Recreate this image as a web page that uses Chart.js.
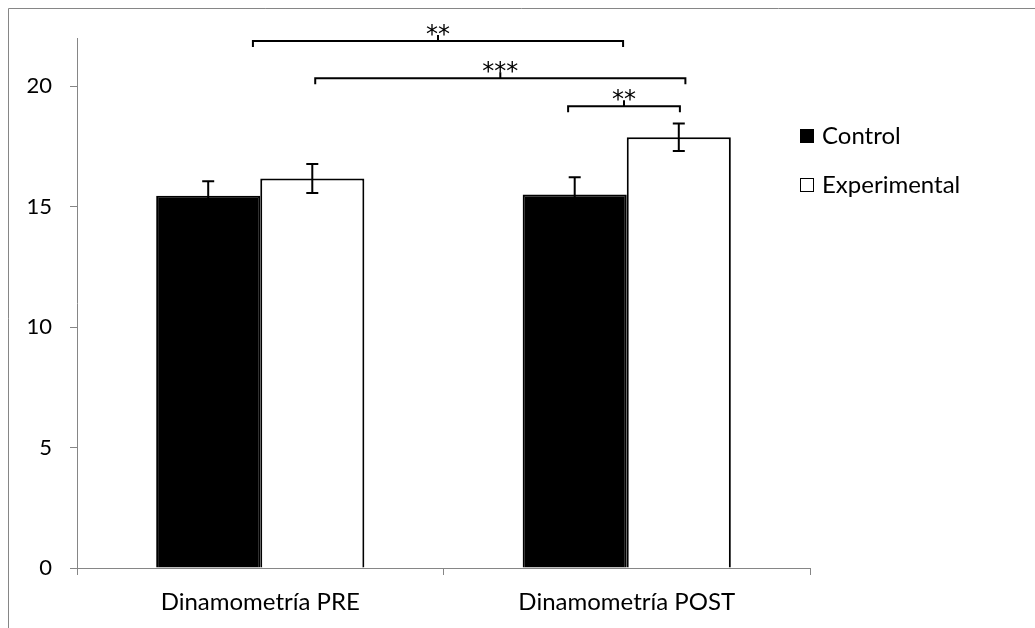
<!DOCTYPE html>
<html>
<head>
<meta charset="utf-8">
<title>Dinamometría</title>
<script src="https://cdn.jsdelivr.net/npm/chart.js@4"></script>
<style>
  html, body { margin: 0; padding: 0; background: #fff; }
  #wrap { width: 1035px; height: 628px; }
</style>
</head>
<body>
<div id="wrap"><canvas id="dinamometria" width="1035" height="628"></canvas></div>
<script>
// grip strength (dynamometry) before / after, mean and error per group
const categories = ['Dinamometría PRE', 'Dinamometría POST'];
const controlMeans = [15.45, 15.5];
const controlErrors = [0.6, 0.72];
const experimentalMeans = [16.17, 17.88];
const experimentalErrors = [0.6, 0.57];
const yTicks = [0, 5, 10, 15, 20];

// significance brackets, spans given in category units, height in axis units
const comparisons = [
  { from: -0.02, to: 0.99, y: 21.88, label: '**' },
  { from: 0.15, to: 1.16, y: 20.33, label: '***' },
  { from: 0.84, to: 1.145, y: 19.17, label: '**' }
];

const errors = [controlErrors, experimentalErrors];
const axisGray = '#868686';
const font = 'Lato, "Noto Sans", sans-serif';

const frame = {
  id: 'frame',
  beforeDraw(chart) {
    const c = chart.ctx;
    c.save();
    c.strokeStyle = axisGray;
    c.lineWidth = 1;
    c.beginPath();
    c.moveTo(8.5, chart.height);
    c.lineTo(8.5, 8.5);
    c.lineTo(chart.width, 8.5);
    c.stroke();
    c.restore();
  }
};

const errorBars = {
  id: 'errorBars',
  afterDatasetsDraw(chart) {
    const c = chart.ctx;
    const y = chart.scales.y;
    c.save();
    c.strokeStyle = '#000';
    c.lineWidth = 2;
    chart.data.datasets.forEach((ds, di) => {
      chart.getDatasetMeta(di).data.forEach((bar, i) => {
        const v = ds.data[i], e = errors[di][i];
        const top = y.getPixelForValue(v + e);
        const bot = y.getPixelForValue(v - e);
        c.beginPath();
        c.moveTo(bar.x, top); c.lineTo(bar.x, bot);
        c.moveTo(bar.x - 6, top); c.lineTo(bar.x + 6, top);
        c.moveTo(bar.x - 6, bot); c.lineTo(bar.x + 6, bot);
        c.stroke();
      });
    });
    c.restore();
  }
};

const brackets = {
  id: 'brackets',
  afterDraw(chart) {
    const c = chart.ctx;
    const x = chart.scales.x, y = chart.scales.y;
    c.save();
    c.strokeStyle = '#000';
    c.fillStyle = '#000';
    c.lineWidth = 2;
    c.font = '24px "DejaVu Sans", sans-serif';
    c.textAlign = 'center';
    c.textBaseline = 'alphabetic';
    comparisons.forEach(cmp => {
      const x0 = x.getPixelForValue(cmp.from);
      const x1 = x.getPixelForValue(cmp.to);
      const yy = y.getPixelForValue(cmp.y);
      const mid = (x0 + x1) / 2;
      c.beginPath();
      c.moveTo(x0, yy + 6);
      c.lineTo(x0, yy);
      c.lineTo(x1, yy);
      c.lineTo(x1, yy + 6);
      c.moveTo(mid, yy);
      c.lineTo(mid, yy - 6);
      c.stroke();
      c.fillText(cmp.label, mid, yy + 1);
    });
    c.restore();
  }
};

const sideLegend = {
  id: 'sideLegend',
  afterDraw(chart) {
    const c = chart.ctx;
    const left = chart.chartArea.right - 10;
    c.save();
    c.font = '24px ' + font;
    c.textBaseline = 'middle';
    c.textAlign = 'left';
    chart.data.datasets.forEach((ds, i) => {
      const cy = 136 + i * 49;
      c.fillStyle = ds.backgroundColor;
      c.fillRect(left, cy - 7, 14, 14);
      c.strokeStyle = '#000';
      c.lineWidth = 1;
      c.strokeRect(left + 0.5, cy - 6.5, 13, 13);
      c.fillStyle = '#000';
      c.fillText(ds.label, left + 22, cy);
    });
    c.restore();
  }
};

new Chart(document.getElementById('dinamometria'), {
  type: 'bar',
  data: {
    labels: categories,
    datasets: [
      {
        label: 'Control',
        data: controlMeans,
        backgroundColor: '#000000',
        borderColor: '#000000',
        borderWidth: 2
      },
      {
        label: 'Experimental',
        data: experimentalMeans,
        backgroundColor: '#ffffff',
        borderColor: '#000000',
        borderWidth: 2
      }
    ]
  },
  options: {
    responsive: false,
    animation: false,
    devicePixelRatio: 1,
    layout: { padding: { top: 38, right: 225, left: 0, bottom: 0 } },
    datasets: { bar: { barPercentage: 1, categoryPercentage: 0.568 } },
    plugins: {
      legend: { display: false },
      tooltip: { enabled: false }
    },
    scales: {
      x: {
        grid: { drawOnChartArea: false, tickLength: 7, color: axisGray },
        border: { color: axisGray },
        ticks: { color: '#000', padding: 13, font: { family: font, size: 24 } },
        afterFit(scale) { scale.height = 60; }
      },
      y: {
        min: 0,
        max: 22,
        grid: { drawOnChartArea: false, tickLength: 7, color: axisGray },
        border: { color: axisGray },
        ticks: {
          stepSize: 5,
          includeBounds: false,
          color: '#000',
          padding: 18,
          font: { family: font, size: 22 }
        },
        afterBuildTicks(scale) { scale.ticks = yTicks.map(v => ({ value: v })); },
        afterFit(scale) { scale.width = 77; }
      }
    }
  },
  plugins: [frame, errorBars, brackets, sideLegend]
});
</script>
</body>
</html>
